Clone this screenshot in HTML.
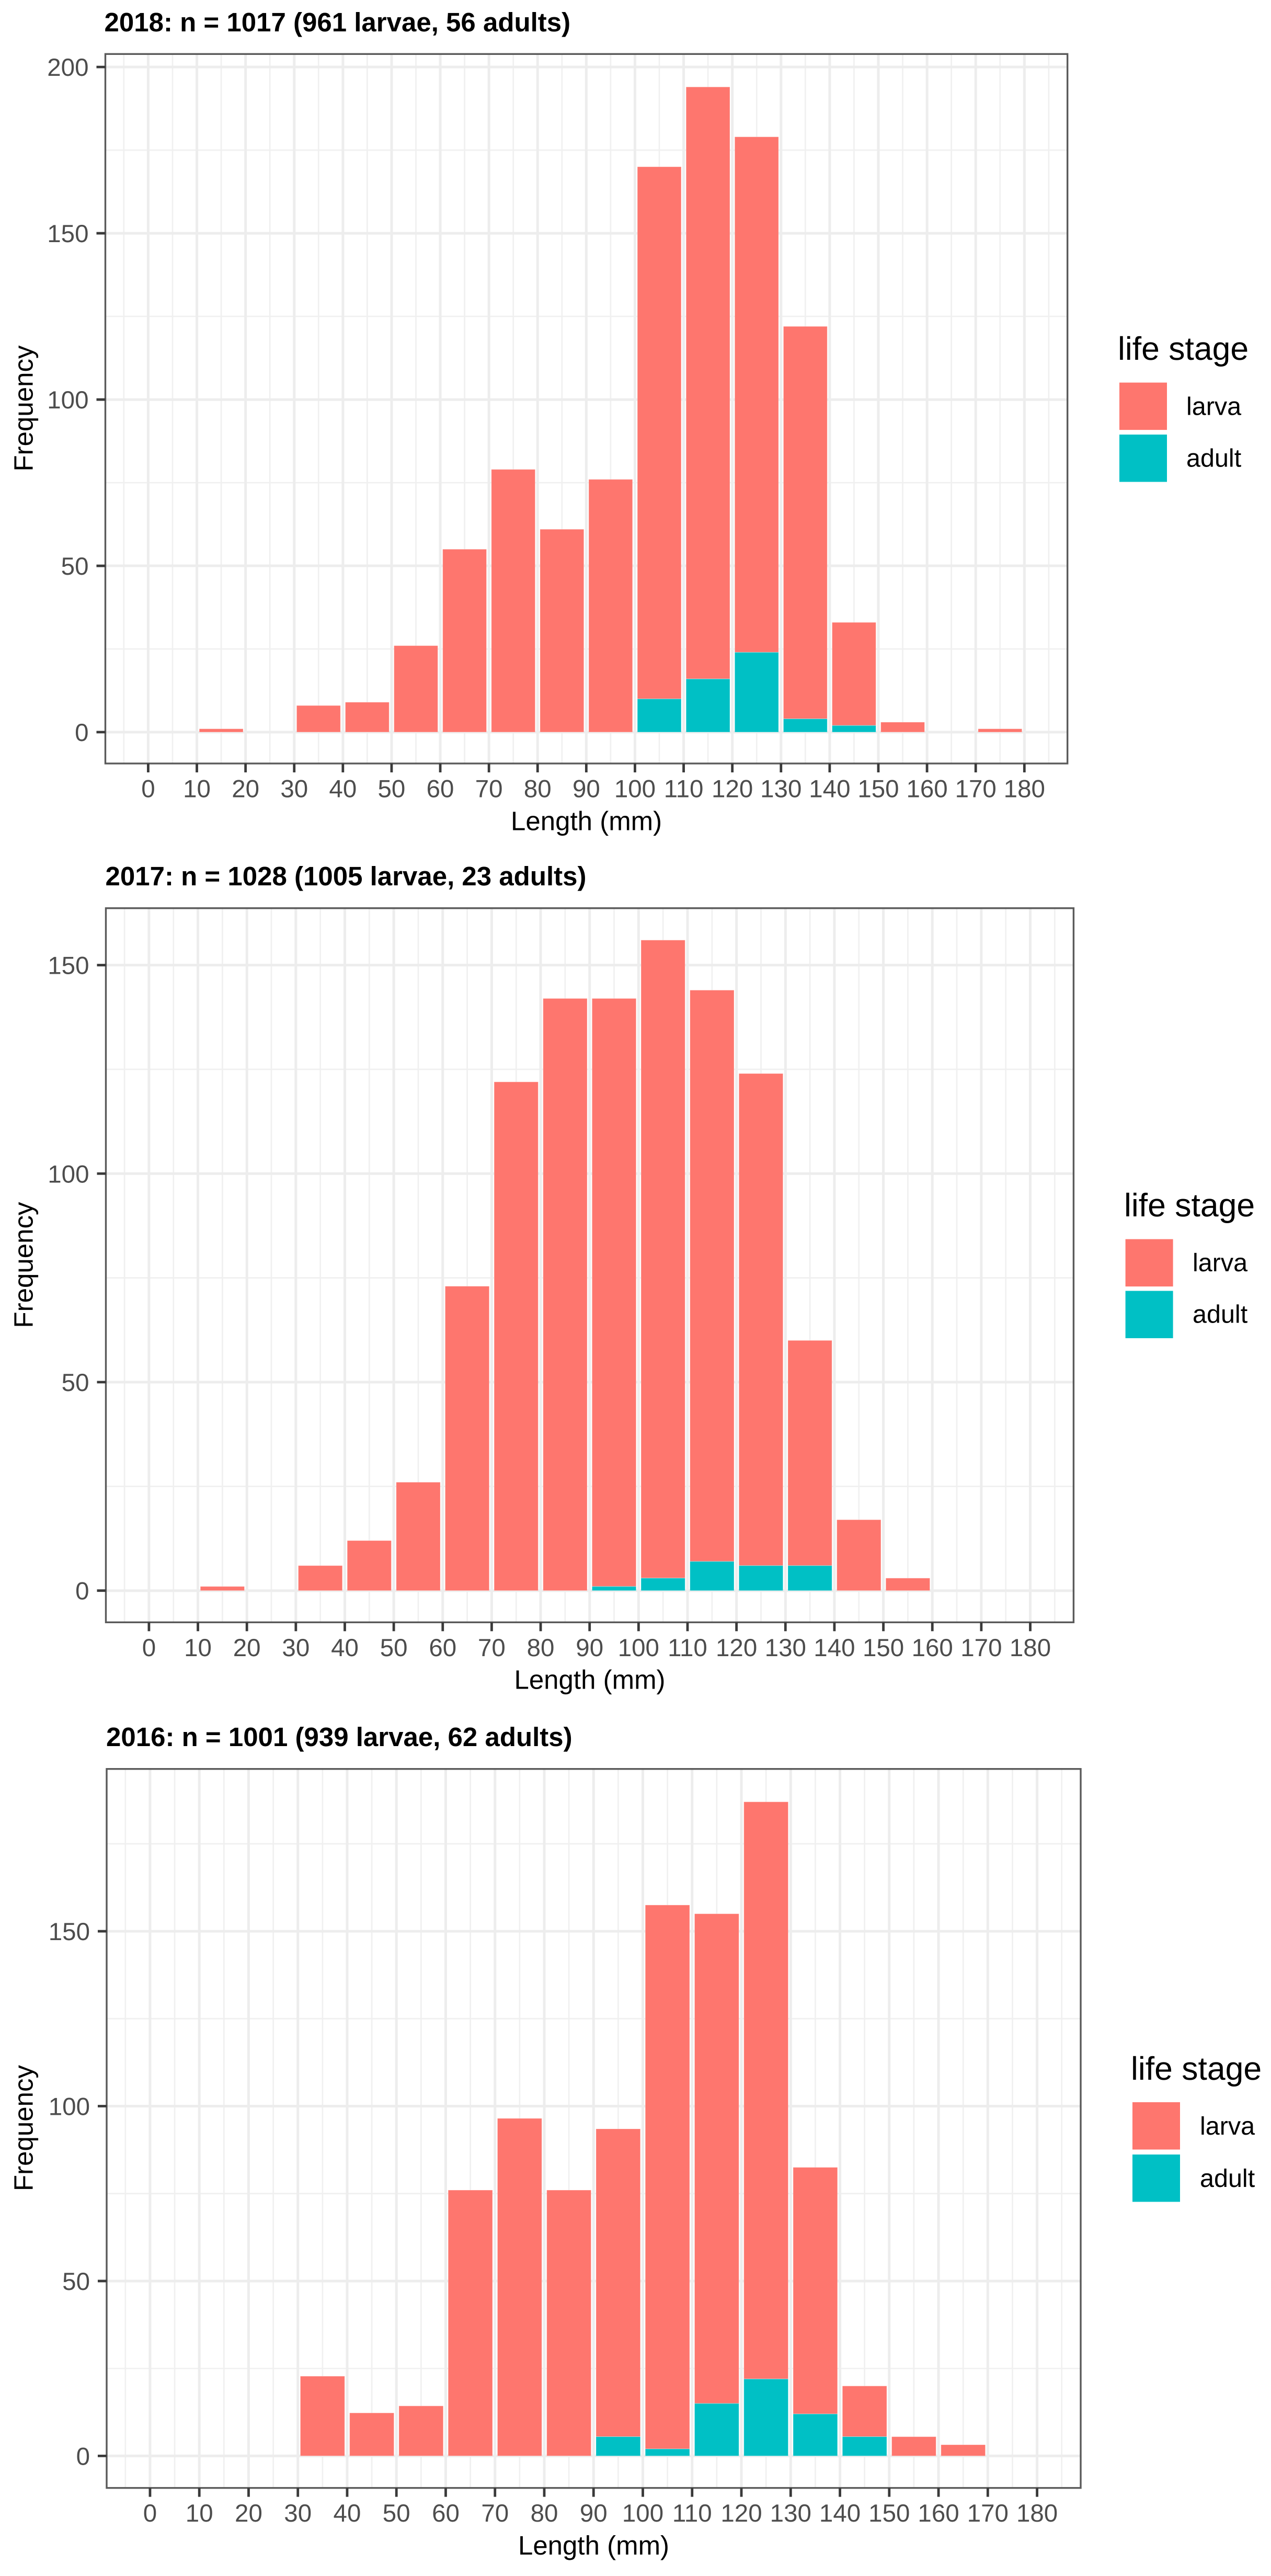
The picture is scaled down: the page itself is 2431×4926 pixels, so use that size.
<!DOCTYPE html>
<html lang="en">
<head>
<meta charset="utf-8">
<title>Length frequency by life stage, 2016-2018</title>
<style>
html,body{margin:0;padding:0;background:#fff;}
svg{display:block;font-family:"Liberation Sans",Arial,sans-serif;text-rendering:geometricPrecision;}
.chart-title{font-size:51px;font-weight:bold;fill:#000;}
.axis-title{font-size:51px;fill:#000;}
.tick-label{font-size:47.5px;fill:#4D4D4D;}
.legend-title{font-size:62.5px;fill:#000;}
.legend-label{font-size:48.5px;fill:#000;}
</style>
</head>
<body>
<svg id="figure" xmlns="http://www.w3.org/2000/svg" width="2431" height="4926" viewBox="0 0 2431 4926">
  <rect x="0" y="0" width="2431" height="4926" fill="#fff"/>

  <g id="chart-2018">
    <text class="chart-title" x="199.5" y="60">2018: n = 1017 (961 larvae, 56 adults)</text>
    <text class="axis-title" text-anchor="middle" transform="translate(62.5,781) rotate(-90)">Frequency</text>
    <text class="axis-title" text-anchor="middle" x="1121.6" y="1587.5">Length (mm)</text>
    <g>
      <text class="legend-title" x="2138" y="688">life stage</text>
      <rect x="2141" y="731.6" width="91" height="90.5" fill="#FE766E"/>
      <rect x="2141" y="831" width="91" height="90.5" fill="#00C0C5"/>
      <text class="legend-label" x="2269" y="793.6">larva</text>
      <text class="legend-label" x="2269" y="892.3">adult</text>
    </g>
  </g>

  <g id="chart-2017">
    <text class="chart-title" x="201.5" y="1693">2017: n = 1028 (1005 larvae, 23 adults)</text>
    <text class="axis-title" text-anchor="middle" transform="translate(62.5,2419) rotate(-90)">Frequency</text>
    <text class="axis-title" text-anchor="middle" x="1128" y="3229.5">Length (mm)</text>
    <g>
      <text class="legend-title" x="2150" y="2326">life stage</text>
      <rect x="2152.6" y="2369.6" width="91" height="90.5" fill="#FE766E"/>
      <rect x="2152.6" y="2468.5" width="91" height="90.5" fill="#00C0C5"/>
      <text class="legend-label" x="2281" y="2431">larva</text>
      <text class="legend-label" x="2281" y="2529.7">adult</text>
    </g>
  </g>

  <g id="chart-2016">
    <text class="chart-title" x="203" y="3339">2016: n = 1001 (939 larvae, 62 adults)</text>
    <text class="axis-title" text-anchor="middle" transform="translate(62.5,4069.5) rotate(-90)">Frequency</text>
    <text class="axis-title" text-anchor="middle" x="1135.5" y="4885">Length (mm)</text>
    <g>
      <text class="legend-title" x="2163" y="3977">life stage</text>
      <rect x="2166" y="4020" width="91" height="90.5" fill="#FE766E"/>
      <rect x="2166" y="4120" width="91" height="90.5" fill="#00C0C5"/>
      <text class="legend-label" x="2295" y="4082">larva</text>
      <text class="legend-label" x="2295" y="4182">adult</text>
    </g>
  </g>
</svg>

<script>
// Bin lower edges (mm); every bin is 10 mm wide.
const binStarts = [10, 20, 30, 40, 50, 60, 70, 80, 90, 100, 110, 120, 130, 140, 150, 160, 170];

// Counts per bin.
const larvae2018 = [1, 0, 8, 9, 26, 55, 79, 61, 76, 160, 178, 155, 118, 31, 3, 0, 1];
const adults2018 = [0, 0, 0, 0, 0, 0, 0, 0, 0, 10, 16, 24, 4, 2, 0, 0, 0];

const larvae2017 = [1, 0, 6, 12, 26, 73, 122, 142, 141, 153, 137, 118, 54, 17, 3, 0, 0];
const adults2017 = [0, 0, 0, 0, 0, 0, 0, 0, 1, 3, 7, 6, 6, 0, 0, 0, 0];

const larvae2016 = [0, 0, 22.8, 12.3, 14.3, 76, 96.5, 76, 88, 155.5, 140, 165, 70.5, 14.5, 5.5, 3.2, 0];
const adults2016 = [0, 0, 0, 0, 0, 0, 0, 0, 5.5, 2, 15, 22, 12, 5.5, 0, 0, 0];

// Axis tick labels.
const xTickLabels = [0, 10, 20, 30, 40, 50, 60, 70, 80, 90, 100, 110, 120, 130, 140, 150, 160, 170, 180];
const xMinorTicks = [-5, 5, 15, 25, 35, 45, 55, 65, 75, 85, 95, 105, 115, 125, 135, 145, 155, 165, 175, 185];
const yTickLabels2018 = [0, 50, 100, 150, 200];
const yMinorTicks2018 = [25, 75, 125, 175];
const yTickLabels2017 = [0, 50, 100, 150];
const yMinorTicks2017 = [25, 75, 125];
const yTickLabels2016 = [0, 50, 100, 150];
const yMinorTicks2016 = [25, 75, 125, 175];

const LARVA_COLOR = '#FE766E';
const ADULT_COLOR = '#00C0C5';
const GRID_COLOR = '#EDEDED';
const MINOR_GRID_COLOR = '#F0F0F0';
const BORDER_COLOR = '#5A5A5A';
const TICK_COLOR = '#3A3A3A';
const BAR_WIDTH_MM = 9;
const BIN_MM = 10;
const X_DOMAIN_MIN = -8.8;
const X_DOMAIN_MAX = 188.85;
const SVG_NS = 'http://www.w3.org/2000/svg';

function svgEl(parent, tag, attrs) {
  const el = document.createElementNS(SVG_NS, tag);
  for (const key in attrs) el.setAttribute(key, attrs[key]);
  parent.appendChild(el);
  return el;
}

function drawChart(opts) {
  const root = document.getElementById(opts.id);
  const left = opts.left, right = opts.right, top = opts.top, bottom = opts.bottom;

  function xScale(v) {
    return left + (v - X_DOMAIN_MIN) / (X_DOMAIN_MAX - X_DOMAIN_MIN) * (right - left);
  }
  function yScale(v) {
    return bottom - (v - opts.yMin) / (opts.yMax - opts.yMin) * (bottom - top);
  }

  const panel = svgEl(root, 'g', {});
  
  

  const bg = svgEl(panel, 'rect', {x: left, y: top, width: right - left, height: bottom - top, fill: '#fff'});
  
  

  xMinorTicks.forEach(function (v) {
    const line = svgEl(panel, 'line', {x1: xScale(v), x2: xScale(v), y1: top, y2: bottom, stroke: MINOR_GRID_COLOR, 'stroke-width': 2.7});
    
    
  });
  opts.yMinor.forEach(function (v) {
    const line = svgEl(panel, 'line', {x1: left, x2: right, y1: yScale(v), y2: yScale(v), stroke: MINOR_GRID_COLOR, 'stroke-width': 2.7});
    
    
  });
  xTickLabels.forEach(function (v) {
    const line = svgEl(panel, 'line', {x1: xScale(v), x2: xScale(v), y1: top, y2: bottom, stroke: GRID_COLOR, 'stroke-width': 5});
    
    
  });
  opts.yTicks.forEach(function (v) {
    const line = svgEl(panel, 'line', {x1: left, x2: right, y1: yScale(v), y2: yScale(v), stroke: GRID_COLOR, 'stroke-width': 5});
    
    
  });

  binStarts.forEach(function (start, i) {
    const center = start + BIN_MM / 2;
    const barLeft = xScale(center - BAR_WIDTH_MM / 2);
    const barW = xScale(center + BAR_WIDTH_MM / 2) - barLeft;
    const adult = opts.adults[i];
    const larva = opts.larvae[i];
    if (larva > 0) {
      const r = svgEl(panel, 'rect', {x: barLeft, y: yScale(adult + larva), width: barW, height: yScale(adult) - yScale(adult + larva), fill: LARVA_COLOR, stroke: 'rgba(255,255,255,0.35)', 'stroke-width': 1});
      
      
    }
    if (adult > 0) {
      const r = svgEl(panel, 'rect', {x: barLeft, y: yScale(adult), width: barW, height: yScale(0) - yScale(adult), fill: ADULT_COLOR, stroke: 'rgba(255,255,255,0.35)', 'stroke-width': 1});
      
      
    }
  });

  const border = svgEl(panel, 'rect', {x: left, y: top, width: right - left, height: bottom - top, fill: 'none', stroke: BORDER_COLOR, 'stroke-width': 3.4});
  
  

  xTickLabels.forEach(function (v) {
    const tick = svgEl(root, 'line', {x1: xScale(v), x2: xScale(v), y1: bottom, y2: bottom + 17, stroke: TICK_COLOR, 'stroke-width': 4.8});
    
    
    const label = svgEl(root, 'text', {x: xScale(v), y: bottom + 64.5, 'text-anchor': 'middle', class: 'tick-label'});
    
    
    label.textContent = String(v);
  });
  opts.yTicks.forEach(function (v) {
    const tick = svgEl(root, 'line', {x1: left - 17, x2: left, y1: yScale(v), y2: yScale(v), stroke: TICK_COLOR, 'stroke-width': 4.8});
    
    
    const label = svgEl(root, 'text', {x: left - 32, y: yScale(v) + 17, 'text-anchor': 'end', class: 'tick-label'});
    
    
    label.textContent = String(v);
  });
}

drawChart({id: 'chart-2018', left: 201.5, right: 2041.7, top: 103.3, bottom: 1460, yMin: -9.43, yMax: 203.9, yTicks: yTickLabels2018, yMinor: yMinorTicks2018, larvae: larvae2018, adults: adults2018});
drawChart({id: 'chart-2017', left: 202.5, right: 2053.4, top: 1736.7, bottom: 3102.3, yMin: -7.6, yMax: 163.65, yTicks: yTickLabels2017, yMinor: yMinorTicks2017, larvae: larvae2017, adults: adults2017});
drawChart({id: 'chart-2016', left: 204, right: 2067, top: 3382.7, bottom: 4757.6, yMin: -9.15, yMax: 196.4, yTicks: yTickLabels2016, yMinor: yMinorTicks2016, larvae: larvae2016, adults: adults2016});
</script>
</body>
</html>
